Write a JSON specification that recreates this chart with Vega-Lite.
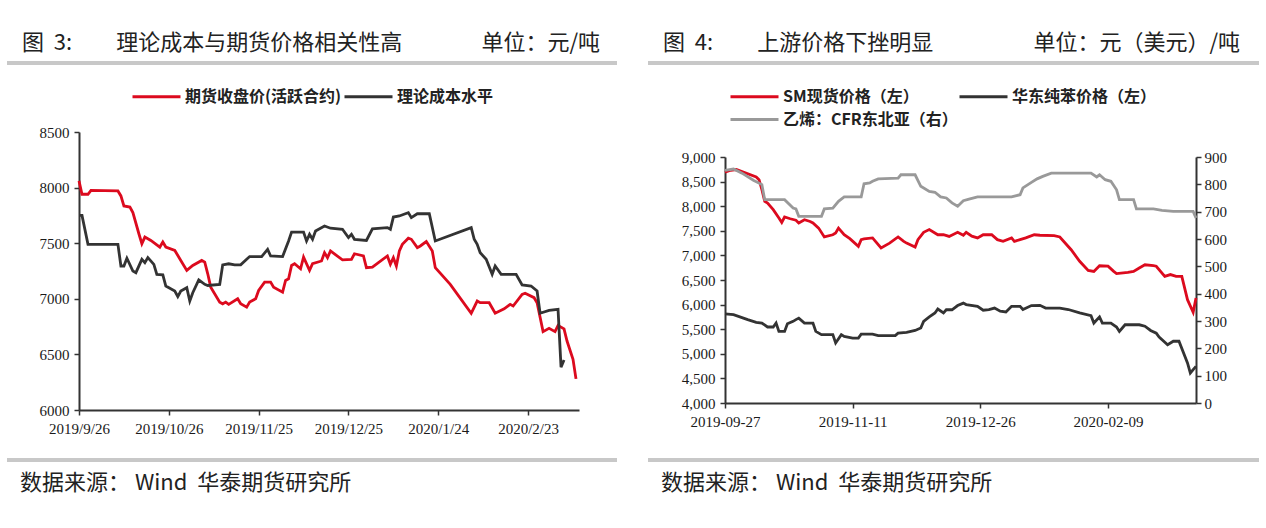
{
  "$schema": "https://vega.github.io/schema/vega-lite/v6.json",
  "padding": {"left": 7, "top": 32, "right": 7, "bottom": 24},
  "background": "white",
  "config": {
    "view": {"stroke": null},
    "font": "Noto Sans CJK SC",
    "axis": {"domainColor": "#333333", "domainWidth": 2, "tickColor": "#333333", "tickWidth": 1.5, "tickSize": 5, "labelFont": "Liberation Serif", "labelFontSize": 15, "labelColor": "#1a1a1a", "grid": false, "labelOverlap": false, "labelFlush": false},
    "legend": {"symbolType": "M-3,0H3", "symbolSize": 256, "symbolStrokeWidth": 3, "labelFont": "Noto Sans CJK SC", "labelFontSize": 16, "labelFontWeight": "bold", "labelColor": "#222222", "labelOffset": 19, "labelLimit": 400, "padding": 0, "rowPadding": 5}
  },
  "datasets": {
    "L": [
      {"d":"2019-09-26","s":"期货收盘价(活跃合约)","v":8060},{"d":"2019-09-27","s":"期货收盘价(活跃合约)","v":7940},{"d":"2019-09-29","s":"期货收盘价(活跃合约)","v":7940},{"d":"2019-09-30","s":"期货收盘价(活跃合约)","v":7975},{"d":"2019-10-09","s":"期货收盘价(活跃合约)","v":7970},{"d":"2019-10-10","s":"期货收盘价(活跃合约)","v":7925},{"d":"2019-10-11","s":"期货收盘价(活跃合约)","v":7835},{"d":"2019-10-13","s":"期货收盘价(活跃合约)","v":7825},{"d":"2019-10-14","s":"期货收盘价(活跃合约)","v":7775},{"d":"2019-10-16","s":"期货收盘价(活跃合约)","v":7585},{"d":"2019-10-17","s":"期货收盘价(活跃合约)","v":7495},{"d":"2019-10-18","s":"期货收盘价(活跃合约)","v":7555},{"d":"2019-10-20","s":"期货收盘价(活跃合约)","v":7525},{"d":"2019-10-23","s":"期货收盘价(活跃合约)","v":7465},{"d":"2019-10-24","s":"期货收盘价(活跃合约)","v":7510},{"d":"2019-10-25","s":"期货收盘价(活跃合约)","v":7465},{"d":"2019-10-28","s":"期货收盘价(活跃合约)","v":7435},{"d":"2019-10-30","s":"期货收盘价(活跃合约)","v":7345},{"d":"2019-11-01","s":"期货收盘价(活跃合约)","v":7255},{"d":"2019-11-03","s":"期货收盘价(活跃合约)","v":7300},{"d":"2019-11-06","s":"期货收盘价(活跃合约)","v":7345},{"d":"2019-11-07","s":"期货收盘价(活跃合约)","v":7330},{"d":"2019-11-08","s":"期货收盘价(活跃合约)","v":7225},{"d":"2019-11-09","s":"期货收盘价(活跃合约)","v":7105},{"d":"2019-11-12","s":"期货收盘价(活跃合约)","v":6970},{"d":"2019-11-13","s":"期货收盘价(活跃合约)","v":6955},{"d":"2019-11-14","s":"期货收盘价(活跃合约)","v":6970},{"d":"2019-11-15","s":"期货收盘价(活跃合约)","v":6950},{"d":"2019-11-18","s":"期货收盘价(活跃合约)","v":7000},{"d":"2019-11-19","s":"期货收盘价(活跃合约)","v":6955},{"d":"2019-11-21","s":"期货收盘价(活跃合约)","v":6925},{"d":"2019-11-22","s":"期货收盘价(活跃合约)","v":6970},{"d":"2019-11-24","s":"期货收盘价(活跃合约)","v":7000},{"d":"2019-11-25","s":"期货收盘价(活跃合约)","v":7075},{"d":"2019-11-27","s":"期货收盘价(活跃合约)","v":7150},{"d":"2019-11-29","s":"期货收盘价(活跃合约)","v":7150},{"d":"2019-11-30","s":"期货收盘价(活跃合约)","v":7105},{"d":"2019-12-03","s":"期货收盘价(活跃合约)","v":7060},{"d":"2019-12-04","s":"期货收盘价(活跃合约)","v":7165},{"d":"2019-12-05","s":"期货收盘价(活跃合约)","v":7180},{"d":"2019-12-06","s":"期货收盘价(活跃合约)","v":7300},{"d":"2019-12-07","s":"期货收盘价(活跃合约)","v":7315},{"d":"2019-12-09","s":"期货收盘价(活跃合约)","v":7270},{"d":"2019-12-10","s":"期货收盘价(活跃合约)","v":7375},{"d":"2019-12-12","s":"期货收盘价(活跃合约)","v":7255},{"d":"2019-12-13","s":"期货收盘价(活跃合约)","v":7315},{"d":"2019-12-16","s":"期货收盘价(活跃合约)","v":7340},{"d":"2019-12-17","s":"期货收盘价(活跃合约)","v":7415},{"d":"2019-12-18","s":"期货收盘价(活跃合约)","v":7370},{"d":"2019-12-19","s":"期货收盘价(活跃合约)","v":7430},{"d":"2019-12-23","s":"期货收盘价(活跃合约)","v":7350},{"d":"2019-12-26","s":"期货收盘价(活跃合约)","v":7355},{"d":"2019-12-27","s":"期货收盘价(活跃合约)","v":7405},{"d":"2019-12-30","s":"期货收盘价(活跃合约)","v":7385},{"d":"2019-12-31","s":"期货收盘价(活跃合约)","v":7280},{"d":"2020-01-02","s":"期货收盘价(活跃合约)","v":7285},{"d":"2020-01-07","s":"期货收盘价(活跃合约)","v":7385},{"d":"2020-01-08","s":"期货收盘价(活跃合约)","v":7310},{"d":"2020-01-09","s":"期货收盘价(活跃合约)","v":7370},{"d":"2020-01-10","s":"期货收盘价(活跃合约)","v":7295},{"d":"2020-01-11","s":"期货收盘价(活跃合约)","v":7430},{"d":"2020-01-12","s":"期货收盘价(活跃合约)","v":7490},{"d":"2020-01-14","s":"期货收盘价(活跃合约)","v":7545},{"d":"2020-01-15","s":"期货收盘价(活跃合约)","v":7535},{"d":"2020-01-17","s":"期货收盘价(活跃合约)","v":7460},{"d":"2020-01-18","s":"期货收盘价(活跃合约)","v":7475},{"d":"2020-01-20","s":"期货收盘价(活跃合约)","v":7515},{"d":"2020-01-22","s":"期货收盘价(活跃合约)","v":7430},{"d":"2020-01-23","s":"期货收盘价(活跃合约)","v":7280},{"d":"2020-01-28","s":"期货收盘价(活跃合约)","v":7130},{"d":"2020-02-04","s":"期货收盘价(活跃合约)","v":6870},{"d":"2020-02-06","s":"期货收盘价(活跃合约)","v":6980},{"d":"2020-02-07","s":"期货收盘价(活跃合约)","v":6965},{"d":"2020-02-10","s":"期货收盘价(活跃合约)","v":6965},{"d":"2020-02-12","s":"期货收盘价(活跃合约)","v":6870},{"d":"2020-02-15","s":"期货收盘价(活跃合约)","v":6910},{"d":"2020-02-17","s":"期货收盘价(活跃合约)","v":6950},{"d":"2020-02-18","s":"期货收盘价(活跃合约)","v":6935},{"d":"2020-02-21","s":"期货收盘价(活跃合约)","v":7040},{"d":"2020-02-22","s":"期货收盘价(活跃合约)","v":7050},{"d":"2020-02-25","s":"期货收盘价(活跃合约)","v":7010},{"d":"2020-02-26","s":"期货收盘价(活跃合约)","v":6965},{"d":"2020-02-28","s":"期货收盘价(活跃合约)","v":6705},{"d":"2020-03-01","s":"期货收盘价(活跃合约)","v":6735},{"d":"2020-03-03","s":"期货收盘价(活跃合约)","v":6705},{"d":"2020-03-04","s":"期货收盘价(活跃合约)","v":6760},{"d":"2020-03-06","s":"期货收盘价(活跃合约)","v":6730},{"d":"2020-03-07","s":"期货收盘价(活跃合约)","v":6620},{"d":"2020-03-09","s":"期货收盘价(活跃合约)","v":6455},{"d":"2020-03-10","s":"期货收盘价(活跃合约)","v":6280},
      {"d":"2019-09-26","s":"理论成本水平","v":7750},{"d":"2019-09-27","s":"理论成本水平","v":7750},{"d":"2019-09-29","s":"理论成本水平","v":7490},{"d":"2019-10-09","s":"理论成本水平","v":7490},{"d":"2019-10-10","s":"理论成本水平","v":7295},{"d":"2019-10-11","s":"理论成本水平","v":7295},{"d":"2019-10-12","s":"理论成本水平","v":7365},{"d":"2019-10-14","s":"理论成本水平","v":7250},{"d":"2019-10-15","s":"理论成本水平","v":7235},{"d":"2019-10-17","s":"理论成本水平","v":7355},{"d":"2019-10-18","s":"理论成本水平","v":7325},{"d":"2019-10-19","s":"理论成本水平","v":7370},{"d":"2019-10-21","s":"理论成本水平","v":7310},{"d":"2019-10-22","s":"理论成本水平","v":7220},{"d":"2019-10-24","s":"理论成本水平","v":7215},{"d":"2019-10-25","s":"理论成本水平","v":7115},{"d":"2019-10-28","s":"理论成本水平","v":7070},{"d":"2019-10-29","s":"理论成本水平","v":7020},{"d":"2019-10-30","s":"理论成本水平","v":7070},{"d":"2019-11-01","s":"理论成本水平","v":7100},{"d":"2019-11-02","s":"理论成本水平","v":6980},{"d":"2019-11-03","s":"理论成本水平","v":7055},{"d":"2019-11-05","s":"理论成本水平","v":7170},{"d":"2019-11-07","s":"理论成本水平","v":7130},{"d":"2019-11-08","s":"理论成本水平","v":7120},{"d":"2019-11-12","s":"理论成本水平","v":7130},{"d":"2019-11-13","s":"理论成本水平","v":7305},{"d":"2019-11-15","s":"理论成本水平","v":7315},{"d":"2019-11-17","s":"理论成本水平","v":7305},{"d":"2019-11-19","s":"理论成本水平","v":7305},{"d":"2019-11-21","s":"理论成本水平","v":7355},{"d":"2019-11-22","s":"理论成本水平","v":7380},{"d":"2019-11-26","s":"理论成本水平","v":7380},{"d":"2019-11-28","s":"理论成本水平","v":7445},{"d":"2019-11-29","s":"理论成本水平","v":7385},{"d":"2019-12-03","s":"理论成本水平","v":7380},{"d":"2019-12-05","s":"理论成本水平","v":7520},{"d":"2019-12-06","s":"理论成本水平","v":7600},{"d":"2019-12-10","s":"理论成本水平","v":7600},{"d":"2019-12-11","s":"理论成本水平","v":7520},{"d":"2019-12-12","s":"理论成本水平","v":7580},{"d":"2019-12-13","s":"理论成本水平","v":7535},{"d":"2019-12-14","s":"理论成本水平","v":7610},{"d":"2019-12-17","s":"理论成本水平","v":7655},{"d":"2019-12-19","s":"理论成本水平","v":7635},{"d":"2019-12-23","s":"理论成本水平","v":7625},{"d":"2019-12-25","s":"理论成本水平","v":7550},{"d":"2019-12-26","s":"理论成本水平","v":7580},{"d":"2019-12-27","s":"理论成本水平","v":7535},{"d":"2019-12-31","s":"理论成本水平","v":7525},{"d":"2020-01-02","s":"理论成本水平","v":7630},{"d":"2020-01-07","s":"理论成本水平","v":7640},{"d":"2020-01-08","s":"理论成本水平","v":7625},{"d":"2020-01-09","s":"理论成本水平","v":7735},{"d":"2020-01-11","s":"理论成本水平","v":7745},{"d":"2020-01-13","s":"理论成本水平","v":7765},{"d":"2020-01-14","s":"理论成本水平","v":7775},{"d":"2020-01-15","s":"理论成本水平","v":7730},{"d":"2020-01-17","s":"理论成本水平","v":7765},{"d":"2020-01-21","s":"理论成本水平","v":7765},{"d":"2020-01-23","s":"理论成本水平","v":7520},{"d":"2020-02-04","s":"理论成本水平","v":7640},{"d":"2020-02-05","s":"理论成本水平","v":7535},{"d":"2020-02-06","s":"理论成本水平","v":7490},{"d":"2020-02-07","s":"理论成本水平","v":7415},{"d":"2020-02-09","s":"理论成本水平","v":7355},{"d":"2020-02-11","s":"理论成本水平","v":7220},{"d":"2020-02-12","s":"理论成本水平","v":7295},{"d":"2020-02-14","s":"理论成本水平","v":7220},{"d":"2020-02-19","s":"理论成本水平","v":7220},{"d":"2020-02-21","s":"理论成本水平","v":7125},{"d":"2020-02-24","s":"理论成本水平","v":7115},{"d":"2020-02-26","s":"理论成本水平","v":7070},{"d":"2020-02-27","s":"理论成本水平","v":6870},{"d":"2020-03-01","s":"理论成本水平","v":6895},{"d":"2020-03-04","s":"理论成本水平","v":6905},{"d":"2020-03-05","s":"理论成本水平","v":6385},{"d":"2020-03-06","s":"理论成本水平","v":6450}
    ],
    "R": [
      {"d":"2019-09-27","s":"SM现货价格（左）","v":8690},{"d":"2019-09-29","s":"SM现货价格（左）","v":8730},{"d":"2019-10-01","s":"SM现货价格（左）","v":8745},{"d":"2019-10-08","s":"SM现货价格（左）","v":8595},{"d":"2019-10-09","s":"SM现货价格（左）","v":8540},{"d":"2019-10-10","s":"SM现货价格（左）","v":8335},{"d":"2019-10-11","s":"SM现货价格（左）","v":8100},{"d":"2019-10-12","s":"SM现货价格（左）","v":8065},{"d":"2019-10-14","s":"SM现货价格（左）","v":7930},{"d":"2019-10-16","s":"SM现货价格（左）","v":7760},{"d":"2019-10-17","s":"SM现货价格（左）","v":7670},{"d":"2019-10-18","s":"SM现货价格（左）","v":7780},{"d":"2019-10-20","s":"SM现货价格（左）","v":7745},{"d":"2019-10-22","s":"SM现货价格（左）","v":7715},{"d":"2019-10-23","s":"SM现货价格（左）","v":7660},{"d":"2019-10-25","s":"SM现货价格（左）","v":7725},{"d":"2019-10-27","s":"SM现货价格（左）","v":7690},{"d":"2019-10-28","s":"SM现货价格（左）","v":7660},{"d":"2019-10-30","s":"SM现货价格（左）","v":7555},{"d":"2019-11-01","s":"SM现货价格（左）","v":7375},{"d":"2019-11-04","s":"SM现货价格（左）","v":7420},{"d":"2019-11-05","s":"SM现货价格（左）","v":7455},{"d":"2019-11-06","s":"SM现货价格（左）","v":7555},{"d":"2019-11-08","s":"SM现货价格（左）","v":7420},{"d":"2019-11-10","s":"SM现货价格（左）","v":7340},{"d":"2019-11-13","s":"SM现货价格（左）","v":7185},{"d":"2019-11-14","s":"SM现货价格（左）","v":7320},{"d":"2019-11-15","s":"SM现货价格（左）","v":7335},{"d":"2019-11-18","s":"SM现货价格（左）","v":7355},{"d":"2019-11-21","s":"SM现货价格（左）","v":7150},{"d":"2019-11-24","s":"SM现货价格（左）","v":7250},{"d":"2019-11-27","s":"SM现货价格（左）","v":7375},{"d":"2019-11-29","s":"SM现货价格（左）","v":7285},{"d":"2019-11-30","s":"SM现货价格（左）","v":7250},{"d":"2019-12-03","s":"SM现货价格（左）","v":7170},{"d":"2019-12-04","s":"SM现货价格（左）","v":7320},{"d":"2019-12-06","s":"SM现货价格（左）","v":7470},{"d":"2019-12-08","s":"SM现货价格（左）","v":7525},{"d":"2019-12-11","s":"SM现货价格（左）","v":7420},{"d":"2019-12-13","s":"SM现货价格（左）","v":7420},{"d":"2019-12-15","s":"SM现货价格（左）","v":7385},{"d":"2019-12-18","s":"SM现货价格（左）","v":7470},{"d":"2019-12-20","s":"SM现货价格（左）","v":7410},{"d":"2019-12-21","s":"SM现货价格（左）","v":7470},{"d":"2019-12-23","s":"SM现货价格（左）","v":7390},{"d":"2019-12-25","s":"SM现货价格（左）","v":7355},{"d":"2019-12-27","s":"SM现货价格（左）","v":7420},{"d":"2019-12-30","s":"SM现货价格（左）","v":7420},{"d":"2020-01-01","s":"SM现货价格（左）","v":7320},{"d":"2020-01-03","s":"SM现货价格（左）","v":7285},{"d":"2020-01-06","s":"SM现货价格（左）","v":7355},{"d":"2020-01-07","s":"SM现货价格（左）","v":7285},{"d":"2020-01-09","s":"SM现货价格（左）","v":7320},{"d":"2020-01-11","s":"SM现货价格（左）","v":7355},{"d":"2020-01-14","s":"SM现货价格（左）","v":7420},{"d":"2020-01-16","s":"SM现货价格（左）","v":7410},{"d":"2020-01-21","s":"SM现货价格（左）","v":7400},{"d":"2020-01-23","s":"SM现货价格（左）","v":7375},{"d":"2020-01-27","s":"SM现货价格（左）","v":7115},{"d":"2020-01-30","s":"SM现货价格（左）","v":6880},{"d":"2020-02-02","s":"SM现货价格（左）","v":6695},{"d":"2020-02-04","s":"SM现货价格（左）","v":6675},{"d":"2020-02-06","s":"SM现货价格（左）","v":6790},{"d":"2020-02-09","s":"SM现货价格（左）","v":6780},{"d":"2020-02-11","s":"SM现货价格（左）","v":6675},{"d":"2020-02-12","s":"SM现货价格（左）","v":6630},{"d":"2020-02-16","s":"SM现货价格（左）","v":6655},{"d":"2020-02-18","s":"SM现货价格（左）","v":6675},{"d":"2020-02-20","s":"SM现货价格（左）","v":6745},{"d":"2020-02-22","s":"SM现货价格（左）","v":6810},{"d":"2020-02-25","s":"SM现货价格（左）","v":6790},{"d":"2020-02-26","s":"SM现货价格（左）","v":6780},{"d":"2020-02-29","s":"SM现货价格（左）","v":6575},{"d":"2020-03-02","s":"SM现货价格（左）","v":6610},{"d":"2020-03-04","s":"SM现货价格（左）","v":6575},{"d":"2020-03-06","s":"SM现货价格（左）","v":6575},{"d":"2020-03-08","s":"SM现货价格（左）","v":6100},{"d":"2020-03-10","s":"SM现货价格（左）","v":5845},{"d":"2020-03-11","s":"SM现货价格（左）","v":6135},
      {"d":"2019-09-27","s":"华东纯苯价格（左）","v":5810},{"d":"2019-09-30","s":"华东纯苯价格（左）","v":5795},{"d":"2019-10-05","s":"华东纯苯价格（左）","v":5695},{"d":"2019-10-08","s":"华东纯苯价格（左）","v":5640},{"d":"2019-10-10","s":"华东纯苯价格（左）","v":5625},{"d":"2019-10-12","s":"华东纯苯价格（左）","v":5545},{"d":"2019-10-14","s":"华东纯苯价格（左）","v":5545},{"d":"2019-10-15","s":"华东纯苯价格（左）","v":5625},{"d":"2019-10-16","s":"华东纯苯价格（左）","v":5455},{"d":"2019-10-18","s":"华东纯苯价格（左）","v":5455},{"d":"2019-10-19","s":"华东纯苯价格（左）","v":5610},{"d":"2019-10-21","s":"华东纯苯价格（左）","v":5660},{"d":"2019-10-22","s":"华东纯苯价格（左）","v":5695},{"d":"2019-10-23","s":"华东纯苯价格（左）","v":5725},{"d":"2019-10-25","s":"华东纯苯价格（左）","v":5625},{"d":"2019-10-28","s":"华东纯苯价格（左）","v":5625},{"d":"2019-10-29","s":"华东纯苯价格（左）","v":5455},{"d":"2019-10-31","s":"华东纯苯价格（左）","v":5390},{"d":"2019-11-04","s":"华东纯苯价格（左）","v":5390},{"d":"2019-11-05","s":"华东纯苯价格（左）","v":5220},{"d":"2019-11-07","s":"华东纯苯价格（左）","v":5390},{"d":"2019-11-08","s":"华东纯苯价格（左）","v":5355},{"d":"2019-11-11","s":"华东纯苯价格（左）","v":5320},{"d":"2019-11-13","s":"华东纯苯价格（左）","v":5320},{"d":"2019-11-14","s":"华东纯苯价格（左）","v":5400},{"d":"2019-11-18","s":"华东纯苯价格（左）","v":5400},{"d":"2019-11-20","s":"华东纯苯价格（左）","v":5370},{"d":"2019-11-26","s":"华东纯苯价格（左）","v":5370},{"d":"2019-11-27","s":"华东纯苯价格（左）","v":5420},{"d":"2019-11-30","s":"华东纯苯价格（左）","v":5435},{"d":"2019-12-03","s":"华东纯苯价格（左）","v":5475},{"d":"2019-12-05","s":"华东纯苯价格（左）","v":5525},{"d":"2019-12-06","s":"华东纯苯价格（左）","v":5660},{"d":"2019-12-08","s":"华东纯苯价格（左）","v":5750},{"d":"2019-12-10","s":"华东纯苯价格（左）","v":5830},{"d":"2019-12-11","s":"华东纯苯价格（左）","v":5910},{"d":"2019-12-13","s":"华东纯苯价格（左）","v":5830},{"d":"2019-12-14","s":"华东纯苯价格（左）","v":5895},{"d":"2019-12-16","s":"华东纯苯价格（左）","v":5895},{"d":"2019-12-18","s":"华东纯苯价格（左）","v":5980},{"d":"2019-12-20","s":"华东纯苯价格（左）","v":6030},{"d":"2019-12-21","s":"华东纯苯价格（左）","v":6000},{"d":"2019-12-25","s":"华东纯苯价格（左）","v":5965},{"d":"2019-12-27","s":"华东纯苯价格（左）","v":5885},{"d":"2019-12-29","s":"华东纯苯价格（左）","v":5900},{"d":"2019-12-31","s":"华东纯苯价格（左）","v":5930},{"d":"2020-01-02","s":"华东纯苯价格（左）","v":5865},{"d":"2020-01-04","s":"华东纯苯价格（左）","v":5850},{"d":"2020-01-06","s":"华东纯苯价格（左）","v":5965},{"d":"2020-01-09","s":"华东纯苯价格（左）","v":5965},{"d":"2020-01-10","s":"华东纯苯价格（左）","v":5900},{"d":"2020-01-13","s":"华东纯苯价格（左）","v":5980},{"d":"2020-01-16","s":"华东纯苯价格（左）","v":5985},{"d":"2020-01-18","s":"华东纯苯价格（左）","v":5930},{"d":"2020-01-23","s":"华东纯苯价格（左）","v":5930},{"d":"2020-01-26","s":"华东纯苯价格（左）","v":5900},{"d":"2020-01-30","s":"华东纯苯价格（左）","v":5830},{"d":"2020-02-03","s":"华东纯苯价格（左）","v":5775},{"d":"2020-02-04","s":"华东纯苯价格（左）","v":5625},{"d":"2020-02-06","s":"华东纯苯价格（左）","v":5750},{"d":"2020-02-07","s":"华东纯苯价格（左）","v":5625},{"d":"2020-02-10","s":"华东纯苯价格（左）","v":5625},{"d":"2020-02-12","s":"华东纯苯价格（左）","v":5545},{"d":"2020-02-13","s":"华东纯苯价格（左）","v":5455},{"d":"2020-02-15","s":"华东纯苯价格（左）","v":5590},{"d":"2020-02-20","s":"华东纯苯价格（左）","v":5590},{"d":"2020-02-22","s":"华东纯苯价格（左）","v":5560},{"d":"2020-02-24","s":"华东纯苯价格（左）","v":5475},{"d":"2020-02-26","s":"华东纯苯价格（左）","v":5420},{"d":"2020-02-27","s":"华东纯苯价格（左）","v":5340},{"d":"2020-03-01","s":"华东纯苯价格（左）","v":5185},{"d":"2020-03-03","s":"华东纯苯价格（左）","v":5255},{"d":"2020-03-05","s":"华东纯苯价格（左）","v":5255},{"d":"2020-03-08","s":"华东纯苯价格（左）","v":4815},{"d":"2020-03-09","s":"华东纯苯价格（左）","v":4610},{"d":"2020-03-10","s":"华东纯苯价格（左）","v":4680},{"d":"2020-03-11","s":"华东纯苯价格（左）","v":4745},
      {"d":"2019-09-27","s":"乙烯：CFR东北亚（右）","v":851},{"d":"2019-09-30","s":"乙烯：CFR东北亚（右）","v":856},{"d":"2019-10-03","s":"乙烯：CFR东北亚（右）","v":841},{"d":"2019-10-07","s":"乙烯：CFR东北亚（右）","v":815},{"d":"2019-10-10","s":"乙烯：CFR东北亚（右）","v":799},{"d":"2019-10-11","s":"乙烯：CFR东北亚（右）","v":744},{"d":"2019-10-18","s":"乙烯：CFR东北亚（右）","v":744},{"d":"2019-10-21","s":"乙烯：CFR东北亚（右）","v":713},{"d":"2019-10-22","s":"乙烯：CFR东北亚（右）","v":710},{"d":"2019-10-23","s":"乙烯：CFR东北亚（右）","v":683},{"d":"2019-10-31","s":"乙烯：CFR东北亚（右）","v":683},{"d":"2019-11-01","s":"乙烯：CFR东北亚（右）","v":710},{"d":"2019-11-04","s":"乙烯：CFR东北亚（右）","v":713},{"d":"2019-11-06","s":"乙烯：CFR东北亚（右）","v":738},{"d":"2019-11-08","s":"乙烯：CFR东北亚（右）","v":754},{"d":"2019-11-14","s":"乙烯：CFR东北亚（右）","v":754},{"d":"2019-11-15","s":"乙烯：CFR东北亚（右）","v":802},{"d":"2019-11-17","s":"乙烯：CFR东北亚（右）","v":805},{"d":"2019-11-18","s":"乙烯：CFR东北亚（右）","v":811},{"d":"2019-11-20","s":"乙烯：CFR东北亚（右）","v":820},{"d":"2019-11-27","s":"乙烯：CFR东北亚（右）","v":823},{"d":"2019-11-28","s":"乙烯：CFR东北亚（右）","v":835},{"d":"2019-12-03","s":"乙烯：CFR东北亚（右）","v":835},{"d":"2019-12-05","s":"乙烯：CFR东北亚（右）","v":793},{"d":"2019-12-08","s":"乙烯：CFR东北亚（右）","v":774},{"d":"2019-12-10","s":"乙烯：CFR东北亚（右）","v":771},{"d":"2019-12-12","s":"乙烯：CFR东北亚（右）","v":754},{"d":"2019-12-14","s":"乙烯：CFR东北亚（右）","v":750},{"d":"2019-12-16","s":"乙烯：CFR东北亚（右）","v":732},{"d":"2019-12-18","s":"乙烯：CFR东北亚（右）","v":720},{"d":"2019-12-20","s":"乙烯：CFR东北亚（右）","v":740},{"d":"2019-12-22","s":"乙烯：CFR东北亚（右）","v":746},{"d":"2019-12-25","s":"乙烯：CFR东北亚（右）","v":754},{"d":"2020-01-06","s":"乙烯：CFR东北亚（右）","v":754},{"d":"2020-01-09","s":"乙烯：CFR东北亚（右）","v":762},{"d":"2020-01-10","s":"乙烯：CFR东北亚（右）","v":787},{"d":"2020-01-13","s":"乙烯：CFR东北亚（右）","v":807},{"d":"2020-01-15","s":"乙烯：CFR东北亚（右）","v":820},{"d":"2020-01-17","s":"乙烯：CFR东北亚（右）","v":829},{"d":"2020-01-20","s":"乙烯：CFR东北亚（右）","v":841},{"d":"2020-02-03","s":"乙烯：CFR东北亚（右）","v":841},{"d":"2020-02-05","s":"乙烯：CFR东北亚（右）","v":827},{"d":"2020-02-06","s":"乙烯：CFR东北亚（右）","v":835},{"d":"2020-02-08","s":"乙烯：CFR东北亚（右）","v":817},{"d":"2020-02-10","s":"乙烯：CFR东北亚（右）","v":811},{"d":"2020-02-12","s":"乙烯：CFR东北亚（右）","v":780},{"d":"2020-02-13","s":"乙烯：CFR东北亚（右）","v":744},{"d":"2020-02-18","s":"乙烯：CFR东北亚（右）","v":744},{"d":"2020-02-19","s":"乙烯：CFR东北亚（右）","v":710},{"d":"2020-02-25","s":"乙烯：CFR东北亚（右）","v":710},{"d":"2020-02-28","s":"乙烯：CFR东北亚（右）","v":705},{"d":"2020-03-03","s":"乙烯：CFR东北亚（右）","v":701},{"d":"2020-03-10","s":"乙烯：CFR东北亚（右）","v":701},{"d":"2020-03-11","s":"乙烯：CFR东北亚（右）","v":677}
    ]
  },
  "spacing": 31,
  "resolve": {"scale": {"color": "independent"}, "legend": {"color": "independent"}},
  "hconcat": [
    {
      "columns": 1,
      "spacing": 22,
      "resolve": {"scale": {"color": "independent"}, "legend": {"color": "independent"}},
      "concat": [
        {
          "width": 610, "height": 4,
          "view": {"fill": "#c8c8c8", "stroke": null},
          "data": {"values": [{"a": "图\u00a0\u00a03:\u3000\u3000理论成本与期货价格相关性高", "b": "单位：元/吨"}]},
          "layer": [
            {"mark": {"type": "text", "align": "left", "baseline": "middle", "dx": 15, "dy": -18, "fontSize": 22, "color": "#222222"},
             "encoding": {"x": {"datum": 0, "type": "quantitative", "scale": {"domain": [0, 1]}, "axis": null},
                          "y": {"datum": 1, "type": "quantitative", "scale": {"domain": [0, 1]}, "axis": null},
                          "text": {"field": "a"}}},
            {"mark": {"type": "text", "align": "right", "baseline": "middle", "dx": -17, "dy": -18, "fontSize": 22, "color": "#222222"},
             "encoding": {"x": {"datum": 1, "type": "quantitative", "scale": {"domain": [0, 1]}, "axis": null},
                          "y": {"datum": 1, "type": "quantitative", "scale": {"domain": [0, 1]}, "axis": null},
                          "text": {"field": "b"}}}
          ]
        },
        {
          "width": 610, "height": 278,
          "data": {"name": "L"},
          "mark": {"type": "line", "strokeWidth": 2.8},
          "encoding": {
            "x": {"field": "d", "type": "temporal",
                  "scale": {"type": "utc", "range": [72, 572], "domain": [{"year": 2019, "month": 9, "date": 26, "utc": true}, {"year": 2020, "month": 3, "date": 11, "utc": true}]},
                  "axis": {"title": null, "format": "%Y/%-m/%-d", "labelPadding": 6, "minExtent": 26,
                           "values": [{"year": 2019, "month": 9, "date": 26, "utc": true}, {"year": 2019, "month": 10, "date": 26, "utc": true}, {"year": 2019, "month": 11, "date": 25, "utc": true}, {"year": 2019, "month": 12, "date": 25, "utc": true}, {"year": 2020, "month": 1, "date": 24, "utc": true}, {"year": 2020, "month": 2, "date": 23, "utc": true}]}},
            "y": {"field": "v", "type": "quantitative", "scale": {"domain": [6000, 8500]},
                  "axis": {"title": null, "format": "d", "offset": -72, "values": [6000, 6500, 7000, 7500, 8000, 8500], "labelPadding": 5}},
            "color": {"field": "s", "type": "nominal",
                      "scale": {"domain": ["期货收盘价(活跃合约)", "理论成本水平"], "range": ["#dc0a1e", "#333333"]},
                      "legend": {"title": null, "orient": "none", "legendX": 140, "legendY": -45, "direction": "horizontal", "columnPadding": -4}}
          }
        },
        {
          "width": 610, "height": 4,
          "view": {"fill": "#c8c8c8", "stroke": null},
          "data": {"values": [{"t": "数据来源：\u00a0Wind\u00a0\u00a0华泰期货研究所"}]},
          "mark": {"type": "text", "align": "left", "baseline": "middle", "dx": 13, "dy": 21, "fontSize": 22, "color": "#222222"},
          "encoding": {"x": {"datum": 0, "type": "quantitative", "scale": {"domain": [0, 1]}, "axis": null},
                       "y": {"datum": 0, "type": "quantitative", "scale": {"domain": [0, 1]}, "axis": null},
                       "text": {"field": "t"}}
        }
      ]
    },
    {
      "columns": 1,
      "spacing": 22,
      "resolve": {"scale": {"color": "independent"}, "legend": {"color": "independent"}},
      "concat": [
        {
          "width": 611, "height": 4,
          "view": {"fill": "#c8c8c8", "stroke": null},
          "data": {"values": [{"a": "图\u00a0\u00a04:\u3000\u3000上游价格下挫明显", "b": "单位：元（美元）/吨"}]},
          "layer": [
            {"mark": {"type": "text", "align": "left", "baseline": "middle", "dx": 15, "dy": -18, "fontSize": 22, "color": "#222222"},
             "encoding": {"x": {"datum": 0, "type": "quantitative", "scale": {"domain": [0, 1]}, "axis": null},
                          "y": {"datum": 1, "type": "quantitative", "scale": {"domain": [0, 1]}, "axis": null},
                          "text": {"field": "a"}}},
            {"mark": {"type": "text", "align": "right", "baseline": "middle", "dx": -19, "dy": -18, "fontSize": 22, "color": "#222222"},
             "encoding": {"x": {"datum": 1, "type": "quantitative", "scale": {"domain": [0, 1]}, "axis": null},
                          "y": {"datum": 1, "type": "quantitative", "scale": {"domain": [0, 1]}, "axis": null},
                          "text": {"field": "b"}}}
          ]
        },
        {
          "width": 611, "height": 246,
          "data": {"name": "R"},
          "encoding": {
            "x": {"field": "d", "type": "temporal",
                  "scale": {"type": "utc", "range": [77, 548], "domain": [{"year": 2019, "month": 9, "date": 27, "utc": true}, {"year": 2020, "month": 3, "date": 11, "utc": true}]},
                  "axis": {"title": null, "format": "%Y-%m-%d", "labelPadding": 6, "minExtent": 33,
                           "values": [{"year": 2019, "month": 9, "date": 27, "utc": true}, {"year": 2019, "month": 11, "date": 11, "utc": true}, {"year": 2019, "month": 12, "date": 26, "utc": true}, {"year": 2020, "month": 2, "date": 9, "utc": true}]}},
            "color": {"field": "s", "type": "nominal",
                      "scale": {"domain": ["SM现货价格（左）", "华东纯苯价格（左）", "乙烯：CFR东北亚（右）"], "range": ["#dc0a1e", "#333333", "#999999"]},
                      "legend": {"title": null, "orient": "none", "legendX": 97, "legendY": -70, "direction": "horizontal", "columns": 2, "columnPadding": -5}}
          },
          "layer": [
            {
              "transform": [{"filter": {"not": {"field": "s", "equal": "乙烯：CFR东北亚（右）"}}}],
              "mark": {"type": "line", "strokeWidth": 2.8},
              "encoding": {
                "y": {"field": "v", "type": "quantitative", "scale": {"domain": [4000, 9000]},
                      "axis": {"title": null, "format": ",d", "offset": -77, "values": [4000, 4500, 5000, 5500, 6000, 6500, 7000, 7500, 8000, 8500, 9000], "labelPadding": 5}}
              }
            },
            {
              "transform": [{"filter": {"field": "s", "equal": "乙烯：CFR东北亚（右）"}}],
              "mark": {"type": "line", "strokeWidth": 2.8},
              "encoding": {
                "y": {"field": "v", "type": "quantitative", "scale": {"domain": [0, 900]},
                      "axis": {"title": null, "orient": "right", "format": "d", "offset": -63, "values": [0, 100, 200, 300, 400, 500, 600, 700, 800, 900], "labelPadding": 3}}
              }
            }
          ],
          "resolve": {"scale": {"y": "independent"}}
        },
        {
          "width": 611, "height": 4,
          "view": {"fill": "#c8c8c8", "stroke": null},
          "data": {"values": [{"t": "数据来源：\u00a0Wind\u00a0\u00a0华泰期货研究所"}]},
          "mark": {"type": "text", "align": "left", "baseline": "middle", "dx": 13, "dy": 21, "fontSize": 22, "color": "#222222"},
          "encoding": {"x": {"datum": 0, "type": "quantitative", "scale": {"domain": [0, 1]}, "axis": null},
                       "y": {"datum": 0, "type": "quantitative", "scale": {"domain": [0, 1]}, "axis": null},
                       "text": {"field": "t"}}
        }
      ]
    }
  ]
}
